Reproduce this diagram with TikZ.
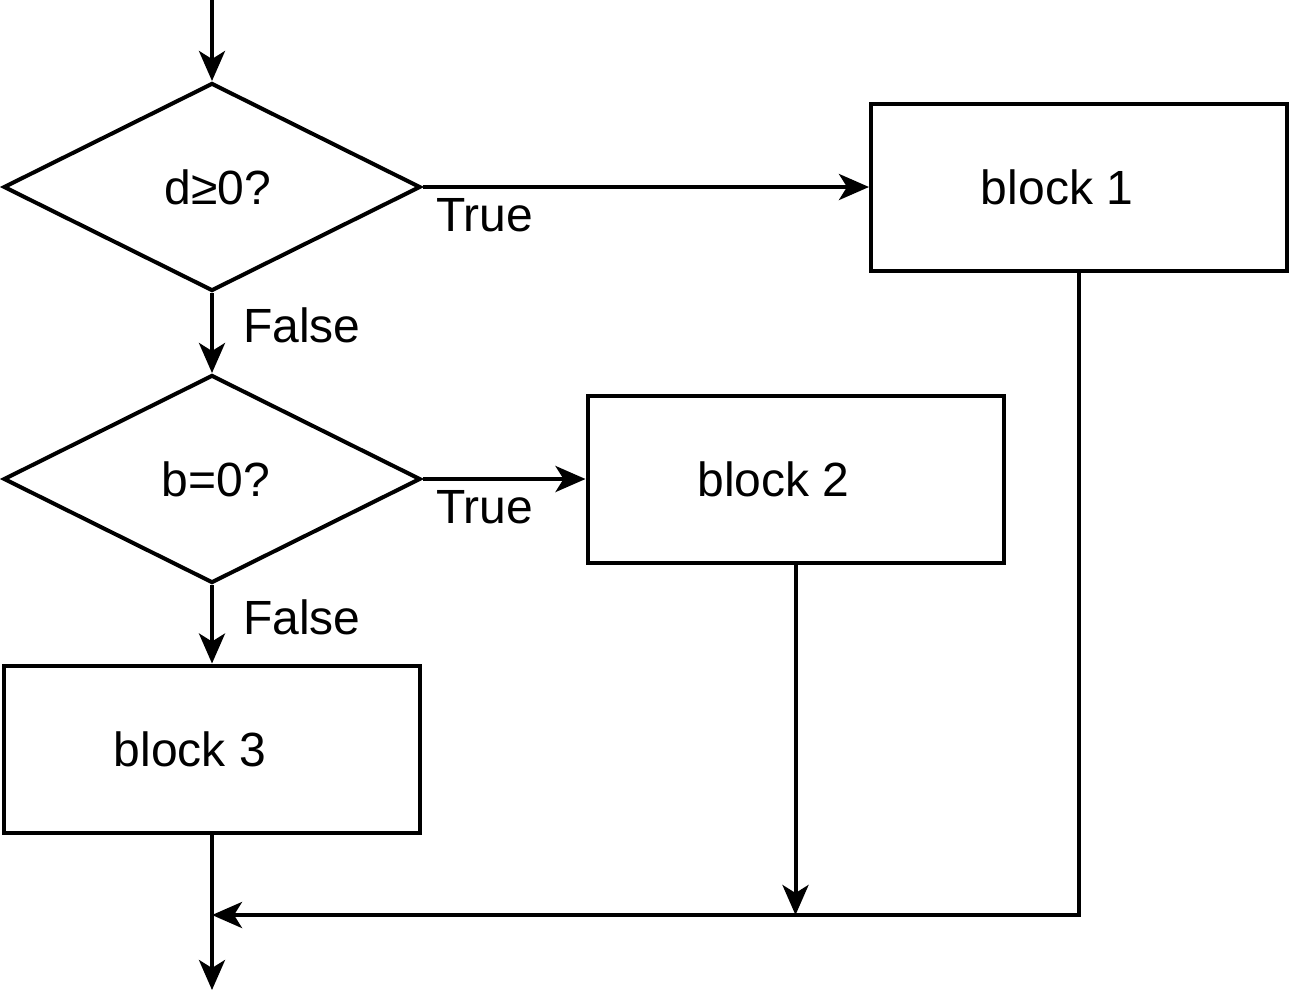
\documentclass[tikz,border=0pt]{standalone}
\usepackage{fontspec}
\setmainfont{Liberation Sans}
\usetikzlibrary{shapes.geometric,arrows.meta}

\begin{document}
\begin{tikzpicture}[x=0.5pt, y=-0.5pt, line width=2pt,
    every node/.style={font=\fontsize{24pt}{28pt}\selectfont},
    test/.style={draw, diamond, aspect=2, inner sep=0pt, minimum width=208.5pt, minimum height=104pt},
    box/.style={draw, rectangle, minimum width=208pt, minimum height=83.5pt,
      label={[xshift=-11pt]center:#1}},
    tag/.style={anchor=base west, inner sep=0pt},
    flow/.style={-{Stealth[length=15pt, width=13pt, inset=4pt]}}]
      \useasboundingbox (0,0) rectangle (1290,992);

      % Draw the two tests
      \node[test] (d1) at (212,187) {\hspace*{6pt}d≥0?};
      \node[test] (d2) at (212,479) {\hspace*{4pt}b=0?};

      % Draw the three blocks
      \node[box=block 1] (b1) at (1079,187) {};
      \node[box=block 2] (b2) at (795.5,479) {};
      \node[box=block 3] (b3) at (212,749) {};

      % Entry, join and exit points
      \coordinate (start) at (212,0);
      \coordinate (join) at (212,915);
      \coordinate (end) at (212,990);

      % Draw the branches
      \draw[flow] (start) -- (d1.north);
      \draw[flow] (d1.east) -- (b1.west);
      \draw[flow] (d1.south) -- (d2.north);
      \draw[flow] (d2.east) -- (b2.west);
      \draw[flow] (d2.south) -- (b3.north);

      % Merge the blocks again
      \draw[flow] (b1.south) |- (join);
      \draw[flow] (b2.south) -- (b2.south |- join);
      \draw[flow] (b3.south) -- (end);

      % Branch labels
      \node[tag] (t1) at (434,231) {True};
      \node[tag] (f1) at (241,342) {False};
      \node[tag] (t2) at (434,523) {True};
      \node[tag] (f2) at (241,634) {False};
\end{tikzpicture}
\end{document}
